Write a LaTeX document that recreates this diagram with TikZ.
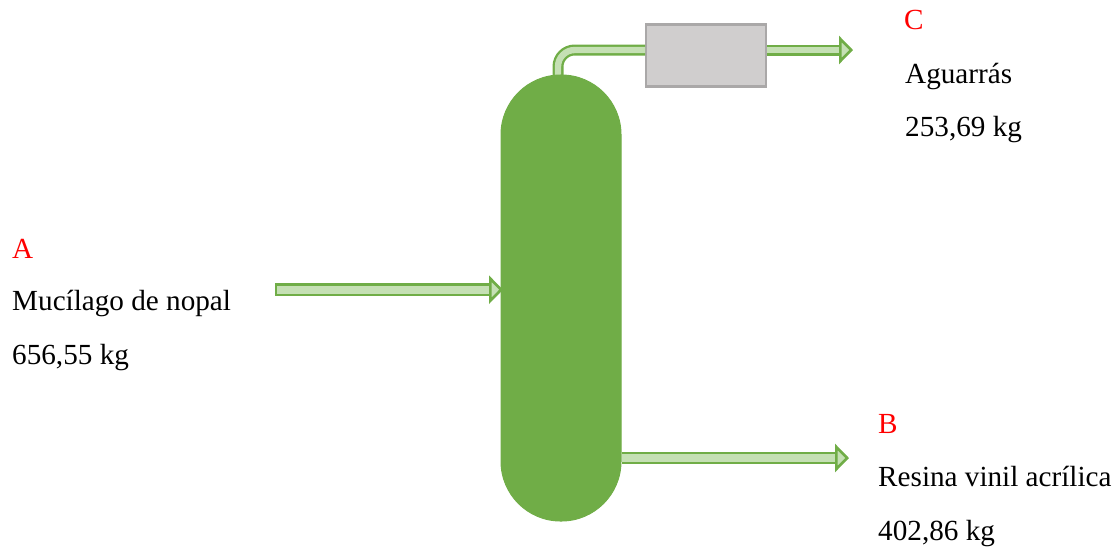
\documentclass[tikz,border=0pt]{standalone}
\usepackage{xcolor}
\usepackage{fontspec}
\setmainfont{Liberation Serif}
\usetikzlibrary{arrows.meta,positioning,calc}
\definecolor{figgreen}{RGB}{112,173,71}
\definecolor{figpale}{RGB}{197,224,180}
\definecolor{figgray}{RGB}{208,206,206}
\definecolor{figedge}{RGB}{170,168,168}
\tikzset{
  towerbox/.style={draw=figgreen, line width=0.03cm, fill=figgreen, minimum width=3.6cm, minimum height=13.38cm, rounded corners=1.79cm, inner sep=0pt},
  coolerbox/.style={draw=figedge, line width=0.07cm, fill=figgray, minimum width=3.6cm, minimum height=1.86cm, inner sep=0pt},
  pipe/.style={draw=figgreen, line width=0.07cm, double=figpale, double distance=0.24cm},
  thinpipe/.style={pipe, double distance=0.19cm},
  pipehead/.style={-{Triangle[length=0.42cm, width=0.84cm, fill=figpale, color=figgreen, line width=0.08cm]}},
  pipestart/.style={fill=figgreen, minimum width=0.07cm, minimum height=0.38cm, inner sep=0pt},
  tagtext/.style={anchor=base west, inner sep=0pt, font=\fontsize{24.9pt}{28pt}\selectfont, text=red},
  figlabel/.style={anchor=base west, inner sep=0pt, font=\fontsize{24.9pt}{28pt}\selectfont, text=black}
}
\begin{document}
\begin{tikzpicture}[x=0.03cm,y=-0.03cm]
  \useasboundingbox (0,0) rectangle (1119,546);

  \node[coolerbox] (cooler) at (706.3,55.5) {};
  \node[pipestart] (feedin) at (276,289.7) {};
  \coordinate (feedtip) at (503,289.7);
  \coordinate (overhead) at (558,80);
  \coordinate (distillate) at (853,50);
  \coordinate (bottoms) at (849,458);

  \draw[thinpipe, rounded corners=0.5cm] (overhead) |- (cooler.west |- distillate);
  \draw[thinpipe, pipehead] (cooler.east |- distillate) -- (distillate);

  \node[towerbox] (tower) at (561,298) {};

  \draw[pipe, pipehead] (feedin) -- (feedtip);
  \draw[pipe, pipehead] (tower.east |- bottoms) -- (bottoms);

  \node[tagtext] (tagA) at (12,258) {A};
  \node[figlabel] (feedname) at (12,310) {Mucílago de nopal};
  \node[figlabel] (feedmass) at (12,364) {656,55 kg};

  \node[tagtext] (tagB) at (878,433) {B};
  \node[figlabel] (bottomsname) at (878,486) {Resina vinil acrílica};
  \node[figlabel] (bottomsmass) at (878,540) {402,86 kg};

  \node[tagtext] (tagC) at (904,29) {C};
  \node[figlabel] (topname) at (905,83) {Aguarrás};
  \node[figlabel] (topmass) at (905,136) {253,69 kg};
\end{tikzpicture}
\end{document}
